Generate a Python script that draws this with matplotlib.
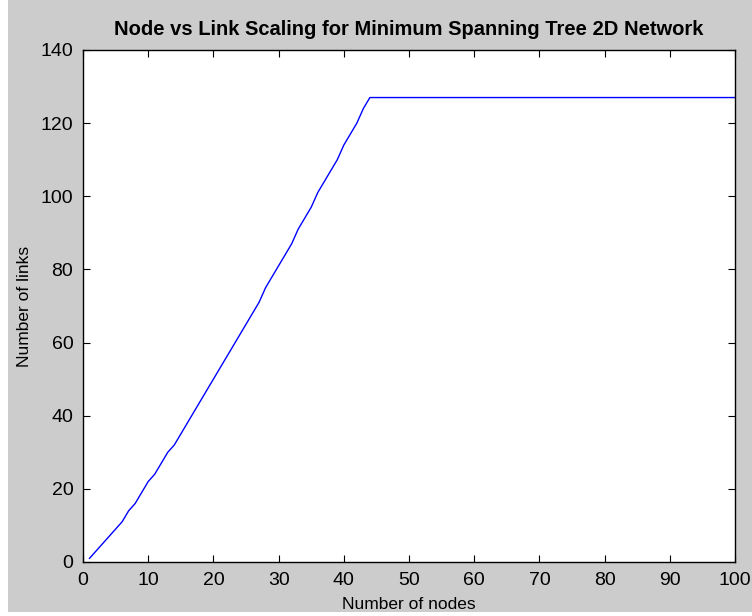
import numpy as np
import matplotlib
matplotlib.use("Agg")
import matplotlib.pyplot as plt
from matplotlib.patches import Rectangle

# links in the minimum spanning tree as nodes are added (saturates at 127)
nodes = list(range(1, 101))
links_growth = [1, 3, 5, 7, 9, 11, 14, 16, 19, 22, 24, 27, 30, 32, 35, 38, 41, 44, 47, 50,
                53, 56, 59, 62, 65, 68, 71, 75, 78, 81, 84, 87, 91, 94, 97, 101, 104, 107,
                110, 114, 117, 120, 124, 127]
links = links_growth + [127] * (len(nodes) - len(links_growth))

plt.rcParams['font.family'] = ['Liberation Sans', 'DejaVu Sans']

W, H = 752, 616
fig = plt.figure(figsize=(W / 100, H / 100), dpi=100, facecolor='white')
# grey window background with a thin white border at left/bottom
fig.patches.append(Rectangle((8 / W, 4 / H), 1 - 8 / W, 1 - 4 / H,
                             transform=fig.transFigure, facecolor='#cccccc',
                             edgecolor='none', zorder=-1))

ax = fig.add_axes([83 / W, 1 - 562 / H, (735 - 83) / W, (562 - 50) / H])
ax.plot(nodes, links, color='#0000ff', linewidth=1.0)

ax.set_xlim(0, 100)
ax.set_ylim(0, 140)
ax.set_xticks(np.arange(0, 101, 10))
ax.set_yticks(np.arange(0, 141, 20))
ax.tick_params(direction='in', top=True, right=True, labelsize=14, length=5, pad=7)
for s in ax.spines.values():
    s.set_linewidth(1.0)

ax.set_xlabel('Number of nodes', fontsize=12.5, labelpad=6)
ax.set_ylabel('Number of links', fontsize=12.5, labelpad=6)
ax.set_title('Node vs Link Scaling for Minimum Spanning Tree 2D Network',
             fontsize=14.5, fontweight='bold', pad=11)

fig.savefig('out.png', dpi=100, facecolor=fig.get_facecolor())
